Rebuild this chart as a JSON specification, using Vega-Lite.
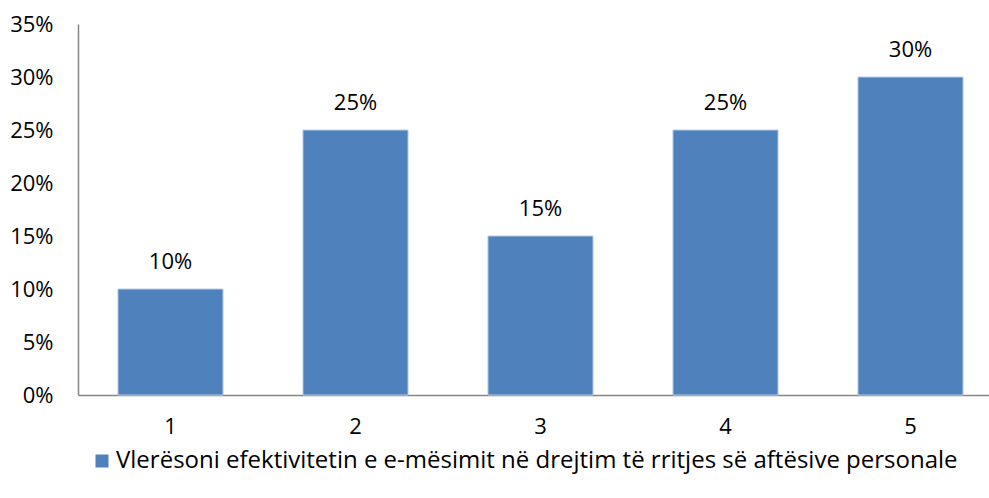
{
  "$schema": "https://vega.github.io/schema/vega-lite/v6.json",
  "autosize": {"type": "none"},
  "width": 911,
  "height": 371,
  "padding": {"left": 78, "top": 24, "right": 0, "bottom": 103},
  "config": {
    "view": {"stroke": null},
    "font": "Open Sans",
    "axis": {"labelFont": "Open Sans", "labelFontSize": 22, "labelColor": "#000000", "grid": false, "ticks": false, "domainColor": "#868686", "domainWidth": 1.5}
  },
  "data": {
    "values": [
      {"category": "1", "value": 0.10, "series": "Vlerësoni efektivitetin e e-mësimit në drejtim të rritjes së aftësive personale"},
      {"category": "2", "value": 0.25, "series": "Vlerësoni efektivitetin e e-mësimit në drejtim të rritjes së aftësive personale"},
      {"category": "3", "value": 0.15, "series": "Vlerësoni efektivitetin e e-mësimit në drejtim të rritjes së aftësive personale"},
      {"category": "4", "value": 0.25, "series": "Vlerësoni efektivitetin e e-mësimit në drejtim të rritjes së aftësive personale"},
      {"category": "5", "value": 0.30, "series": "Vlerësoni efektivitetin e e-mësimit në drejtim të rritjes së aftësive personale"}
    ]
  },
  "encoding": {
    "x": {
      "field": "category", "type": "nominal", "title": null,
      "scale": {"range": [0, 925], "paddingInner": 0.432, "paddingOuter": 0.216},
      "axis": {"labelAngle": 0, "labelPadding": 21}
    },
    "y": {
      "field": "value", "type": "quantitative", "title": null,
      "scale": {"domain": [0, 0.35]},
      "axis": {"format": ".0%", "values": [0, 0.05, 0.1, 0.15, 0.2, 0.25, 0.3, 0.35], "labelPadding": 25}
    }
  },
  "layer": [
    {
      "mark": {"type": "bar", "stroke": "#b9cde5", "strokeWidth": 1},
      "encoding": {
        "color": {
          "field": "series", "type": "nominal",
          "scale": {"range": ["#4F81BD"]},
          "legend": {"title": null, "orient": "none", "legendX": 12, "legendY": 425, "labelFontSize": 24, "labelFont": "Open Sans", "labelColor": "#000000", "symbolType": "square", "symbolSize": 169, "symbolStrokeWidth": 0, "labelLimit": 1000, "symbolOffset": 0, "labelOffset": 2}
        }
      }
    },
    {
      "mark": {"type": "text", "dy": -27, "fontSize": 22, "color": "#000000", "font": "Open Sans"},
      "encoding": {"text": {"field": "value", "type": "quantitative", "format": ".0%"}}
    }
  ]
}
